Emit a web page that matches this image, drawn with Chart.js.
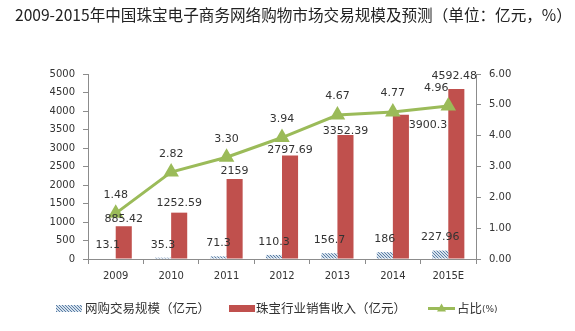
<!DOCTYPE html>
<html>
<head>
<meta charset="utf-8">
<script src="https://cdn.jsdelivr.net/npm/chart.js@4/dist/chart.umd.min.js"></script>
<style>
  html, body { margin: 0; padding: 0; background: #fff; }
  #box { width: 575px; height: 331px; }
</style>
</head>
<body>
<div id="box"><canvas id="jewelChart" width="575" height="331"></canvas></div>
<script>
'use strict';
// colours kept up here so they are easy to tweak
var cRed = '#c0504d';
var cGreen = '#9bbb59';
var cAxis = '#8c8c8c';
var cText = '#333333';

var years = ['2009', '2010', '2011', '2012', '2013', '2014', '2015E'];
var onlineSales = [13.1, 35.3, 71.3, 110.3, 156.7, 186, 227.96];     // 网购交易规模（亿元）
var industrySales = [885.42, 1252.59, 2159, 2797.69, 3352.39, 3900.3, 4592.48]; // 珠宝行业销售收入（亿元）
var share = [1.48, 2.82, 3.30, 3.94, 4.67, 4.77, 4.96];              // 占比(%)
var leftTicks = [0, 500, 1000, 1500, 2000, 2500, 3000, 3500, 4000, 4500, 5000];
var rightTicks = [0, 1, 2, 3, 4, 5, 6];

// little nudges for the value labels (px), so they sit like the printed version
var redNudge = [[0, -7], [0, -10], [0, -8], [0, -5], [0, -4], [27, 10], [-2, -13]];
var lineNudge = [[0, -18], [0, -18], [0, -18], [0, -18], [0, -19], [0, -19], [-12, -18]];

var title = '2009-2015年中国珠宝电子商务网络购物市场交易规模及预测（单位：亿元，%）';

// dotted blue fill for the online sales bars
function makeHatch() {
  var p = document.createElement('canvas');
  p.width = 3; p.height = 3;
  var g = p.getContext('2d');
  g.fillStyle = '#d6e1ec';
  g.fillRect(0, 0, 3, 3);
  g.fillStyle = '#5a7ea6';
  g.fillRect(0, 0, 1, 1);
  g.fillRect(1, 1, 1, 1);
  g.fillRect(2, 2, 1, 1);
  return document.getElementById('jewelChart').getContext('2d').createPattern(p, 'repeat');
}
var hatch = makeHatch();

function fmt(v) {
  return String(v);
}

// title, value labels and legend are drawn by hand
var extras = {
  id: 'extras',
  afterDatasetsDraw: function (chart) {
    var ctx = chart.ctx;
    ctx.save();
    ctx.textAlign = 'center';
    ctx.textBaseline = 'middle';
    ctx.font = '11px "DejaVu Sans"';
    ctx.fillStyle = cText;

    var blueMeta = chart.getDatasetMeta(1);
    blueMeta.data.forEach(function (bar, i) {
      ctx.fillText(fmt(onlineSales[i]), bar.x, bar.y - 13);
    });
    var redMeta = chart.getDatasetMeta(2);
    redMeta.data.forEach(function (bar, i) {
      ctx.fillText(fmt(industrySales[i]), bar.x + redNudge[i][0], bar.y + redNudge[i][1]);
    });
    var lineMeta = chart.getDatasetMeta(0);
    lineMeta.data.forEach(function (pt, i) {
      ctx.fillText(share[i].toFixed(2), pt.x + lineNudge[i][0], pt.y + lineNudge[i][1]);
    });

    // title
    ctx.textAlign = 'left';
    ctx.font = '15.6px "Noto Sans CJK SC"';
    ctx.fillStyle = '#222';
    ctx.fillText(title, 15, 15);

    // legend
    var ly = 308.5;
    ctx.font = '12.5px "Noto Sans CJK SC"';
    ctx.fillStyle = hatch;
    ctx.fillRect(56, ly - 3.5, 26, 7);
    ctx.fillStyle = cRed;
    ctx.fillRect(229, ly - 3.5, 26, 7);
    ctx.strokeStyle = cGreen;
    ctx.lineWidth = 3;
    ctx.beginPath();
    ctx.moveTo(428, ly);
    ctx.lineTo(455, ly);
    ctx.stroke();
    ctx.fillStyle = cGreen;
    ctx.beginPath();
    ctx.moveTo(441.5, ly - 5);
    ctx.lineTo(446, ly + 3);
    ctx.lineTo(437, ly + 3);
    ctx.closePath();
    ctx.fill();

    ctx.fillStyle = cText;
    ctx.fillText('网购交易规模（亿元）', 85, ly);
    ctx.fillText('珠宝行业销售收入（亿元）', 256, ly);
    ctx.fillText('占比', 457, ly);
    ctx.font = '9px "DejaVu Sans"';
    ctx.fillText('(%)', 482, ly + 1);
    ctx.restore();
  }
};

function makeChart() {
  var ctx = document.getElementById('jewelChart');
  var chart = new Chart(ctx, {
    type: 'bar',
    data: {
      labels: years,
      datasets: [{
        type: 'line',
        label: '占比(%)',
        data: share,
        yAxisID: 'y1',
        borderColor: cGreen,
        backgroundColor: cGreen,
        borderWidth: 3,
        pointStyle: 'triangle',
        pointRadius: 6,
        pointBackgroundColor: cGreen,
        pointBorderColor: cGreen,
        tension: 0,
        order: 0
      }, {
        label: '网购交易规模（亿元）',
        data: onlineSales,
        yAxisID: 'y',
        backgroundColor: hatch,
        categoryPercentage: 0.58,
        barPercentage: 1,
        order: 1
      }, {
        label: '珠宝行业销售收入（亿元）',
        data: industrySales,
        yAxisID: 'y',
        backgroundColor: cRed,
        categoryPercentage: 0.58,
        barPercentage: 1,
        order: 1
      }]
    },
    options: {
      responsive: false,
      animation: false,
      layout: { padding: { top: 74, left: 0, right: 0, bottom: 0 } },
      plugins: {
        legend: { display: false },
        title: { display: false },
        tooltip: { enabled: false }
      },
      scales: {
        x: {
          grid: { display: true, drawOnChartArea: false, offset: true, tickLength: 5, color: cAxis },
          border: { color: cAxis },
          ticks: { color: cText, padding: 6, font: { family: 'DejaVu Sans', size: 10 } },
          afterFit: function (s) { s.height = 72; }
        },
        y: {
          position: 'left',
          min: 0,
          max: 5000,
          afterBuildTicks: function (s) { s.ticks = leftTicks.map(function (v) { return { value: v }; }); },
          grid: { display: true, drawOnChartArea: false, tickLength: 5, color: cAxis },
          border: { color: cAxis },
          ticks: {
            color: cText, padding: 8, font: { family: 'DejaVu Sans', size: 10 },
            callback: function (v) { return String(v); }
          },
          afterFit: function (s) { s.width = 88; }
        },
        y1: {
          position: 'right',
          min: 0,
          max: 6,
          afterBuildTicks: function (s) { s.ticks = rightTicks.map(function (v) { return { value: v }; }); },
          grid: { display: true, drawOnChartArea: false, tickLength: 5, color: cAxis },
          border: { color: cAxis },
          ticks: {
            color: cText, padding: 8, font: { family: 'DejaVu Sans', size: 10 },
            callback: function (v) { return Number(v).toFixed(2); }
          },
          afterFit: function (s) { s.width = 99; }
        }
      }
    },
    plugins: [extras]
  });
  return chart;
}
makeChart();
</script>
</body>
</html>
